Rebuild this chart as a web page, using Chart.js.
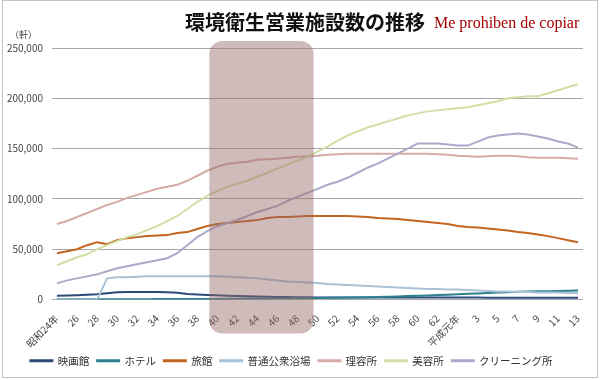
<!DOCTYPE html>
<html lang="ja">
<head>
<meta charset="utf-8">
<script src="https://cdn.jsdelivr.net/npm/chart.js@4.4.1/dist/chart.umd.min.js"></script>
<style>
  body { margin: 0; background: #fff; }
  #wrap { position: relative; width: 600px; height: 380px; font-family: 'Noto Sans CJK JP', 'Noto Sans', sans-serif; }
  #frame { position: absolute; left: 2px; top: 0; width: 594px; height: 376px; border: 1px solid #c4c4c4; pointer-events: none; }
  #title { position: absolute; left: 185px; top: 11px; font-size: 20px; font-weight: bold; line-height: 22px; color: #111; white-space: nowrap; }
  #mark { position: absolute; left: 434px; top: 13px; font-family: 'Liberation Serif', serif; font-size: 16px; line-height: 20px; color: #a30000; white-space: nowrap; }
  #unit { position: absolute; left: 10px; top: 29px; font-size: 9px; line-height: 11px; color: #444; }
</style>
</head>
<body>
<div id="wrap">
  <canvas id="chart" width="600" height="380"></canvas>
  <div id="title">環境衛生営業施設数の推移</div>
  <div id="mark">Me prohiben de copiar</div>
  <div id="unit">（軒）</div>
  <div id="frame"></div>
</div>
<script>
const years = ['昭和24年','25','26','27','28','29','30','31','32','33','34','35','36','37','38','39',
  '40','41','42','43','44','45','46','47','48','49','50','51','52','53','54','55','56','57','58','59',
  '60','61','62','63','平成元年','2','3','4','5','6','7','8','9','10','11','12','13'];

const seriesNames = ['映画館', 'ホテル', '旅館', '普通公衆浴場', '理容所', '美容所', 'クリーニング所'];
const seriesColors = ['#2d4a79', '#2b7f8e', '#c4651f', '#a9c2d6', '#d5aba6', '#cfe0a6', '#aaaacb'];

const cinema = [3800,4000,4300,4700,5200,6300,7200,7400,7500,7500,
  7400,7200,6700,5500,4900,4500,4200,3800,3500,3200,
  2900,2700,2500,2400,2300,2200,2100,2100,2100,2100,
  2100,2100,2000,2000,2000,2000,2000,2000,1900,1900,
  1900,1900,1900,1800,1800,1800,1800,1800,1800,1800,
  1800,1800,1800];
const hotel = [200,200,200,300,300,300,300,300,300,300,
  400,400,400,500,500,500,600,700,800,900,
  1000,1100,1200,1300,1400,1500,1600,1700,1800,1900,
  2000,2200,2500,2800,3100,3400,3700,4000,4400,4800,
  5200,5600,6000,6500,7000,7300,7600,7900,8100,8300,
  8500,8700,8900];
const ryokan = [46000,48000,50000,54000,57000,55000,59000,61000,62000,63000,
  63500,64000,66000,67000,70000,73000,75000,76000,77000,78000,
  79000,81000,82000,82000,82500,83000,83000,83000,83000,83000,
  82500,82000,81000,80500,80000,79000,78000,77000,76000,75000,
  73000,72000,71500,70500,69500,68500,67000,66000,64500,63000,
  61000,59000,57000];
const bath = [0,0,0,0,0,21000,22000,22000,22500,23000,
  23000,23000,23000,23000,23000,23000,23000,22500,22000,21500,
  21000,20000,19000,18000,17500,17000,16500,15500,15000,14500,
  14000,13500,13000,12500,12000,11500,11000,10500,10500,10000,
  10000,9500,9000,8500,8000,8000,7500,7500,7000,7000,
  7000,6500,6500];
const barber = [75000,78000,82000,86000,90000,94000,97000,101000,104000,107000,
  110000,112000,114000,118000,123000,128000,132000,135000,136000,137000,
  139000,139500,140000,141000,142000,142500,143000,144000,144500,145000,
  145000,145000,145000,145000,145000,145000,145000,145000,144500,144000,
  143000,142500,142000,142500,143000,143000,142500,141500,141000,141000,
  141000,140500,140000];
const beauty = [34000,38000,42000,45000,50000,54000,58000,62000,65000,69000,
  73000,78000,83000,90000,97000,103000,108000,112000,115000,118000,
  122000,126000,130000,134000,138000,142000,147000,152000,158000,163000,
  167000,171000,174000,177000,180000,183000,185000,187000,188000,189000,
  190000,191000,193000,195000,197000,200000,201000,202000,202000,205000,
  208000,211000,214000];
const cleaning = [16000,19000,21000,23000,25000,28000,31000,33000,35000,37000,
  39000,41000,46000,54000,62000,68000,73000,76000,79000,83000,
  87000,90000,93000,98000,102000,106000,110000,114000,117000,121000,
  126000,131000,135000,140000,145000,150000,155000,155000,155000,154000,
  153000,153000,157000,161000,163000,164000,165000,164000,162000,160000,
  157000,155000,151000];

const seriesData = [cinema, hotel, ryokan, bath, barber, beauty, cleaning];
const font = "'Noto Sans CJK JP', 'Noto Sans', sans-serif";

// shaded band over Showa 40-49
const shade = {
  id: 'shade',
  afterDraw(chart) {
    const { ctx, scales: { x, y } } = chart;
    const left = x.getPixelForValue(15.2);
    const right = x.getPixelForValue(25.6);
    const top = y.top - 7;
    const bottom = y.bottom + 34;
    ctx.save();
    ctx.fillStyle = 'rgba(150,105,105,0.45)';
    ctx.beginPath();
    ctx.roundRect(left, top, right - left, bottom - top, 13);
    ctx.fill();
    ctx.restore();
  }
};

new Chart(document.getElementById('chart'), {
  type: 'line',
  data: {
    labels: years,
    datasets: seriesNames.map((name, i) => ({
      label: name,
      data: seriesData[i],
      borderColor: seriesColors[i],
      backgroundColor: seriesColors[i],
      borderWidth: 2,
      pointRadius: 0,
      tension: 0,
      order: seriesNames.length - i
    }))
  },
  options: {
    responsive: false,
    animation: false,
    layout: { padding: { left: 0, right: 17, top: 48, bottom: 4 } },
    scales: {
      x: {
        offset: true,
        grid: { display: false },
        border: { display: false },
        ticks: {
          autoSkip: false,
          minRotation: 45,
          maxRotation: 45,
          padding: 5,
          color: '#444',
          font: { family: font, size: 10 },
          callback: function (v, i) { return i % 2 === 0 ? this.getLabelForValue(v) : null; }
        },
        afterFit(s) { s.height = 48; }
      },
      y: {
        min: 0,
        max: 250000,
        ticks: {
          stepSize: 50000,
          padding: 9,
          color: '#444',
          font: { family: font, size: 10 },
          callback: v => v.toLocaleString('en-US')
        },
        grid: { color: '#a8a8a8', drawTicks: false },
        border: { display: false },
        afterFit(s) { s.width = 52; }
      }
    },
    plugins: {
      legend: {
        position: 'bottom',
        labels: {
          boxWidth: 22,
          boxHeight: 1,
          padding: 8,
          color: '#333',
          font: { family: font, size: 10.5 },
          sort: (a, b) => a.datasetIndex - b.datasetIndex
        }
      },
      tooltip: { enabled: false }
    }
  },
  plugins: [shade]
});
</script>
</body>
</html>
